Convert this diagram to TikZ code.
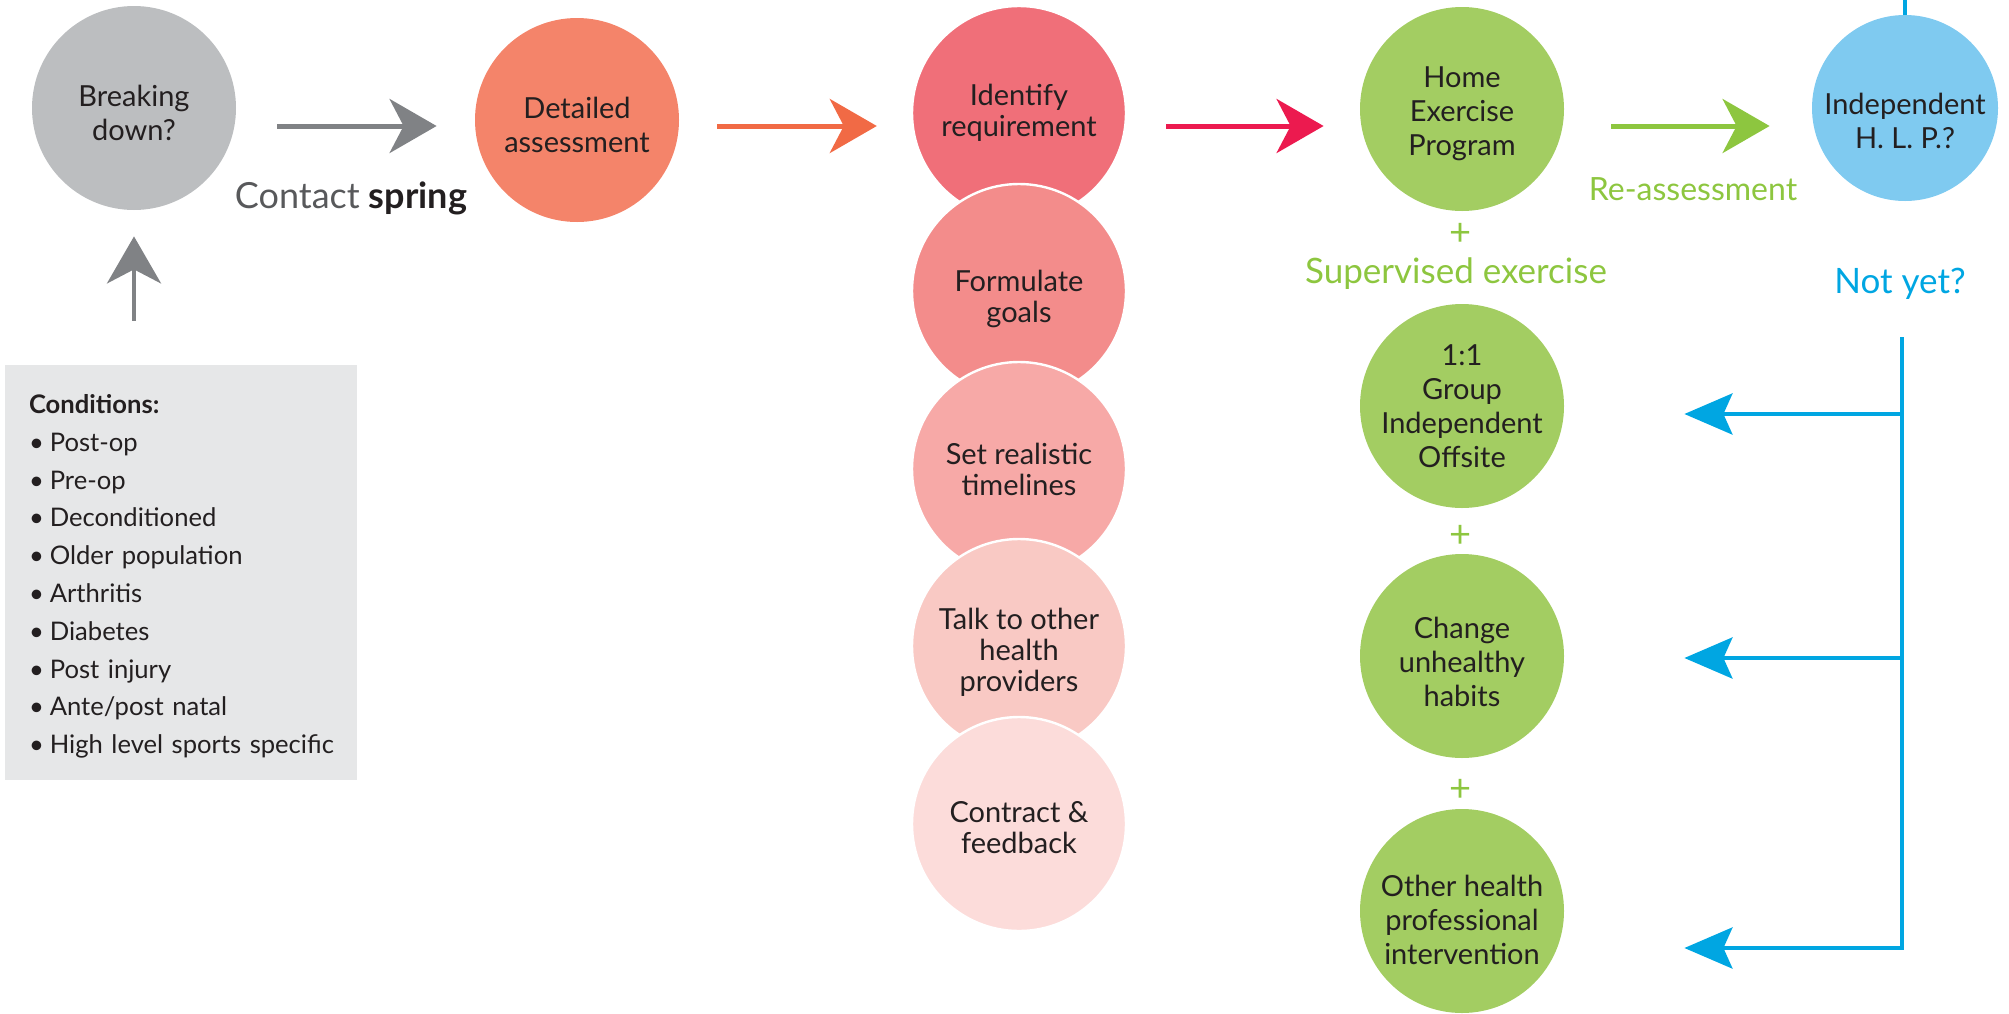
\documentclass[tikz,border=0pt]{standalone}
\usepackage{fontspec}
\setmainfont{Lato}
\usetikzlibrary{arrows.meta}
\definecolor{txt}{HTML}{231F20}
\definecolor{cgtext}{HTML}{58595B}
\definecolor{cgrey}{HTML}{BCBEC0}
\definecolor{corange}{HTML}{F4846A}
\definecolor{cA}{HTML}{F06F79}
\definecolor{cB}{HTML}{F38C8B}
\definecolor{cC}{HTML}{F7A9A7}
\definecolor{cD}{HTML}{F9C9C4}
\definecolor{cE}{HTML}{FCDCDA}
\definecolor{cgreen}{HTML}{A3CD62}
\definecolor{cblue}{HTML}{7FCAF0}
\definecolor{agrey}{HTML}{808285}
\definecolor{aorange}{HTML}{F16A45}
\definecolor{ared}{HTML}{EC1A4F}
\definecolor{agreen}{HTML}{8DC63F}
\definecolor{ablue}{HTML}{00A6E2}
\definecolor{cbox}{HTML}{E6E7E8}
\newcommand{\bul}{•\kern3pt}
\begin{document}
\begin{tikzpicture}[x=0.5pt,y=-0.5pt,
  circ/.style={circle, inner sep=0pt, minimum size=102pt},
  midc/.style={circ, minimum size=107pt, draw=white, line width=1.2pt},
  ctext/.style={inner sep=0pt, align=center, text=txt,
    font=\fontsize{14.5}{17}\selectfont},
  mtext/.style={ctext, font=\fontsize{14.5}{15.5}\selectfont},
  arr/.style={line width=2.5pt, -{Stealth[length=23.5pt, width=27pt, inset=7pt]}},
  barr/.style={line width=2.25pt, ablue, -{Stealth[length=24pt, width=20.5pt, inset=4.5pt]}},
  bline/.style={line width=2.25pt, ablue},
  plus/.style={font=\fontsize{19}{19}\selectfont, text=agreen, inner sep=0pt},
  lab/.style={anchor=base, inner sep=0pt}
]
\useasboundingbox (0,0) rectangle (2009,1013);

% conditions box
\node[fill=cbox, minimum width=176pt, minimum height=207.5pt, inner sep=0pt] (cond) at (181,572.5) {};
\node[inner sep=0pt, text width=153pt, align=left, text=txt,
  font=\fontsize{12.8}{18.9}\selectfont] (condT) at ([xshift=0.5pt,yshift=-2pt]cond.center)
  {\textbf{Conditions:}\\
   \bul Post-op\\
   \bul Pre-op\\
   \bul Deconditioned\\
   \bul Older population\\
   \bul Arthritis\\
   \bul Diabetes\\
   \bul Post injury\\
   \bul Ante/post natal\\
   \bul High level sports specific};

% circles
\node[circ, fill=cgrey] (bd) at (134,108) {};
\node[circ, fill=corange] (da) at (577,120) {};
\node[midc, fill=cA] (ir) at (1019,113) {};
\node[midc, fill=cB] (fg) at (1019,291) {};
\node[midc, fill=cC] (sr) at (1019,469) {};
\node[midc, fill=cD] (tt) at (1019,646) {};
\node[midc, fill=cE] (cf) at (1019,824) {};
\node[circ, fill=cgreen] (hep) at (1462,109) {};
\node[circ, fill=cblue, minimum size=93pt] (ind) at (1905,108) {};
\node[circ, fill=cgreen] (g1) at (1462,406) {};
\node[circ, fill=cgreen] (g2) at (1462,656) {};
\node[circ, fill=cgreen] (g3) at (1462,911) {};

% circle texts
\node[ctext] (bdT) at ([yshift=-2.3pt]bd.center) {Breaking\\down?};
\node[ctext] (daT) at ([yshift=-2.3pt]da.center) {Detailed\\assessment};
\node[mtext] (irT) at (ir.center) {Identify\\requirement};
\node[mtext] (fgT) at ([yshift=-3.9pt]fg.center) {Formulate\\goals};
\node[mtext] (srT) at ([yshift=-0.3pt]sr.center) {Set realistic\\timelines};
\node[mtext] (ttT) at ([yshift=-2.9pt]tt.center) {Talk to other\\health\\providers};
\node[mtext] (cfT) at ([yshift=-1.9pt]cf.center) {Contract \&\\feedback};
\node[ctext] (hepT) at ([yshift=-2.5pt]hep.center) {Home\\Exercise\\Program};
\node[ctext] (indT) at ([yshift=-6.4pt]ind.center) {Independent\\H. L. P.?};
\node[ctext] (g1T) at (g1.center) {1:1\\Group\\Independent\\Offsite};
\node[ctext] (g2T) at ([yshift=-3.2pt]g2.center) {Change\\unhealthy\\habits};
\node[ctext] (g3T) at ([yshift=-4.5pt]g3.center) {Other health\\professional\\intervention};

% labels
\node[lab, font=\fontsize{18}{20}\selectfont, text=cgtext] (cs) at (351,208)
  {Contact \textbf{\textcolor{txt}{spring}}};
\node[lab, font=\fontsize{16}{18}\selectfont, text=agreen] (ra) at (1693,200) {Re-assessment};
\node[lab, font=\fontsize{17.5}{19}\selectfont, text=agreen] (se) at (1456,283) {Supervised exercise};
\node[lab, font=\fontsize{17.5}{19}\selectfont, text=ablue] (ny) at (1900,293) {Not yet?};
\node[plus] (p1) at (1461,234) {+};
\node[plus] (p2) at (1461,536) {+};
\node[plus] (p3) at (1461,790) {+};

% horizontal arrows
\coordinate (ay) at (0,126);
\draw[arr, agrey, shorten <=20.5pt, shorten >=19pt] (bd.east |- ay) -- (da.west |- ay);
\draw[arr, aorange, shorten <=19pt, shorten >=17pt] (da.east |- ay) -- (ir.west |- ay);
\draw[arr, ared, shorten <=19.5pt, shorten >=18pt] (ir.east |- ay) -- (hep.west |- ay);
\draw[arr, agreen, shorten <=23.5pt, shorten >=21pt] (hep.east |- ay) -- (ind.west |- ay);
% up arrow
\draw[arr, agrey, line width=2.25pt, shorten <=22pt, shorten >=13pt] (bd |- cond.north) -- (bd.south);

% blue feedback
\coordinate (top) at (0,0);
\coordinate (bt) at (1902,337);
\coordinate (bb) at (1902,948);
\coordinate (b1) at (1902,414);
\coordinate (b2) at (1902,658);
\draw[bline] (ind.north) -- (ind.north |- top);
\draw[barr, shorten >=60pt] (bt) |- (g3.east |- bb);
\draw[barr, shorten >=60pt] (b1) -- (g1.east |- b1);
\draw[barr, shorten >=60pt] (b2) -- (g2.east |- b2);
\end{tikzpicture}
\end{document}
